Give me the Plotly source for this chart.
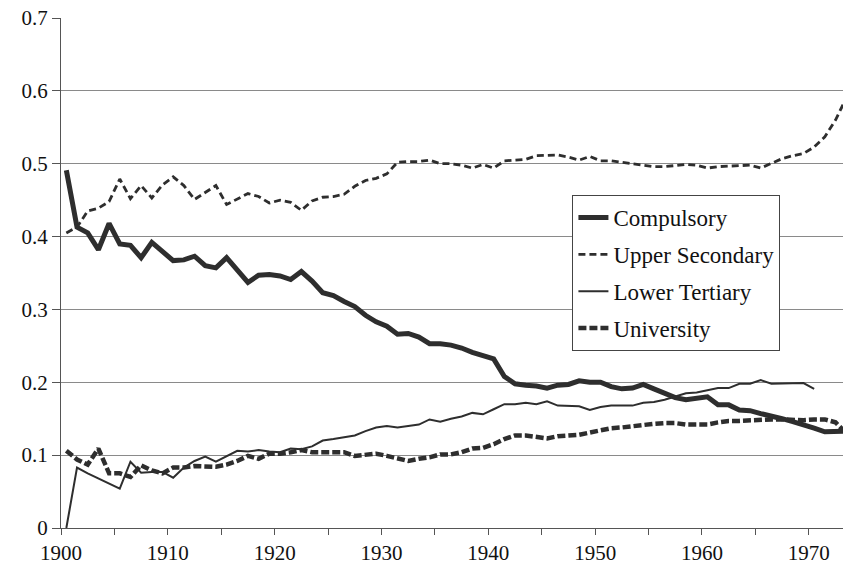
import plotly.graph_objects as go

years = list(range(1900, 1974))

compulsory = [0.491, 0.413, 0.405, 0.382, 0.418, 0.390, 0.388, 0.371, 0.392, 0.380,
              0.367, 0.368, 0.373, 0.360, 0.357, 0.371, 0.355, 0.337, 0.347, 0.348,
              0.346, 0.341, 0.352, 0.339, 0.323, 0.319, 0.311, 0.304, 0.292, 0.283,
              0.277, 0.266, 0.267, 0.262, 0.253, 0.253, 0.251, 0.247, 0.241, 0.237,
              0.232, 0.208, 0.198, 0.196, 0.195, 0.192, 0.196, 0.197, 0.202, 0.200,
              0.200, 0.194, 0.191, 0.192, 0.197, 0.191, 0.185, 0.179, 0.176, 0.178,
              0.180, 0.169, 0.169, 0.162, 0.161, 0.157, 0.154, 0.150, 0.146, 0.142,
              0.137, 0.132, 0.132, 0.133]

upper_secondary = [0.405, 0.413, 0.435, 0.439, 0.448, 0.479, 0.452, 0.470, 0.453, 0.471,
                   0.482, 0.470, 0.451, 0.461, 0.470, 0.444, 0.452, 0.459, 0.455, 0.446,
                   0.450, 0.447, 0.436, 0.449, 0.454, 0.455, 0.458, 0.469, 0.477, 0.480,
                   0.486, 0.502, 0.503, 0.503, 0.505, 0.500, 0.500, 0.498, 0.494, 0.499,
                   0.494, 0.504, 0.505, 0.506, 0.511, 0.512, 0.512, 0.509, 0.505, 0.510,
                   0.504, 0.504, 0.502, 0.500, 0.497, 0.496, 0.496, 0.498, 0.499, 0.498,
                   0.494, 0.496, 0.497, 0.497, 0.498, 0.494, 0.500, 0.507, 0.511, 0.514,
                   0.523, 0.537, 0.560, 0.590]

lower_tertiary = [0.000, 0.083, 0.075, 0.068, 0.061, 0.054, 0.091, 0.076, 0.077, 0.077,
                  0.069, 0.083, 0.092, 0.098, 0.091, 0.099, 0.106, 0.105, 0.107, 0.105,
                  0.104, 0.109, 0.108, 0.112, 0.120, 0.122, 0.125, 0.127, 0.133, 0.138,
                  0.140, 0.138, 0.140, 0.142, 0.149, 0.146, 0.150, 0.153, 0.158, 0.156,
                  0.163, 0.170, 0.170, 0.172, 0.170, 0.174, 0.168, 0.168, 0.167, 0.162,
                  0.166, 0.168, 0.168, 0.168, 0.172, 0.173, 0.176, 0.180, 0.185, 0.186,
                  0.189, 0.192, 0.192, 0.198, 0.198, 0.203, 0.198, 0.198, 0.198, 0.199,
                  0.191, None, None, None]

university = [0.106, 0.094, 0.087, 0.109, 0.075, 0.075, 0.070, 0.086, 0.079, 0.075,
              0.083, 0.083, 0.085, 0.085, 0.084, 0.087, 0.092, 0.099, 0.095, 0.102,
              0.102, 0.104, 0.107, 0.104, 0.104, 0.105, 0.104, 0.099, 0.100, 0.102,
              0.099, 0.095, 0.092, 0.095, 0.097, 0.101, 0.101, 0.104, 0.109, 0.110,
              0.115, 0.122, 0.127, 0.127, 0.125, 0.123, 0.126, 0.127, 0.128, 0.131,
              0.134, 0.137, 0.138, 0.140, 0.142, 0.143, 0.144, 0.144, 0.142, 0.142,
              0.142, 0.145, 0.147, 0.147, 0.148, 0.149, 0.149, 0.149, 0.148, 0.148,
              0.149, 0.149, 0.145, 0.130]

x_tick_vals = [1900, 1905, 1910, 1915, 1920, 1925, 1930, 1935, 1940, 1945, 1950, 1955, 1960, 1965, 1970]
x_tick_text = ["1900", "", "1910", "", "1920", "", "1930", "", "1940", "", "1950", "", "1960", "", "1970"]
y_tick_vals = [0, 0.1, 0.2, 0.3, 0.4, 0.5, 0.6, 0.7]
y_tick_text = ["0", "0.1", "0.2", "0.3", "0.4", "0.5", "0.6", "0.7"]

x = [yr + 0.5 for yr in years]
ink = "#2e2e2e"
font_family = "Liberation Serif, Times New Roman, serif"

fig = go.Figure()
fig.add_trace(go.Scatter(x=x, y=compulsory, mode="lines", name="Compulsory",
                         legendgroup="a", line=dict(color=ink, width=5)))
fig.add_trace(go.Scatter(x=x, y=upper_secondary, mode="lines", name="Upper Secondary",
                         legendgroup="b", line=dict(color=ink, width=2.8, dash="7px,4px")))
fig.add_trace(go.Scatter(x=x, y=lower_tertiary, mode="lines", name="Lower Tertiary",
                         legendgroup="c", line=dict(color=ink, width=2)))
fig.add_trace(go.Scatter(x=x, y=university, mode="lines", name="University",
                         legendgroup="d", line=dict(color=ink, width=4.5, dash="8px,3px")))

fig.update_layout(
    width=843, height=573,
    margin=dict(l=61, r=0, t=18, b=45, autoexpand=False),
    paper_bgcolor="white", plot_bgcolor="white",
    font=dict(family=font_family, size=21, color="#111"),
    showlegend=True,
    legend=dict(
        x=0.654, y=0.653, xanchor="left", yanchor="top",
        bgcolor="white", bordercolor="#444", borderwidth=1,
        font=dict(family=font_family, size=23, color="#111"),
        tracegroupgap=4, traceorder="grouped",
    ),
    xaxis=dict(
        range=[1900, 1973.2], tickmode="array", tickvals=x_tick_vals, ticktext=x_tick_text,
        showgrid=False, zeroline=False, showline=True, linecolor="#555", linewidth=1,
        ticks="outside", ticklen=6, tickcolor="#555", automargin=False,
        tickfont=dict(size=21),
    ),
    yaxis=dict(
        range=[0, 0.7], tickmode="array", tickvals=y_tick_vals, ticktext=y_tick_text,
        showgrid=True, gridcolor="#8a8a8a", gridwidth=1, zeroline=False,
        showline=True, linecolor="#555", linewidth=1,
        ticks="outside", ticklen=8, tickcolor="#555", automargin=False,
        tickfont=dict(size=21),
    ),
)

fig.write_html(
    "out.html",
    config={"displayModeBar": False},
    post_script="document.body.style.margin='0';document.body.style.padding='0';",
)
